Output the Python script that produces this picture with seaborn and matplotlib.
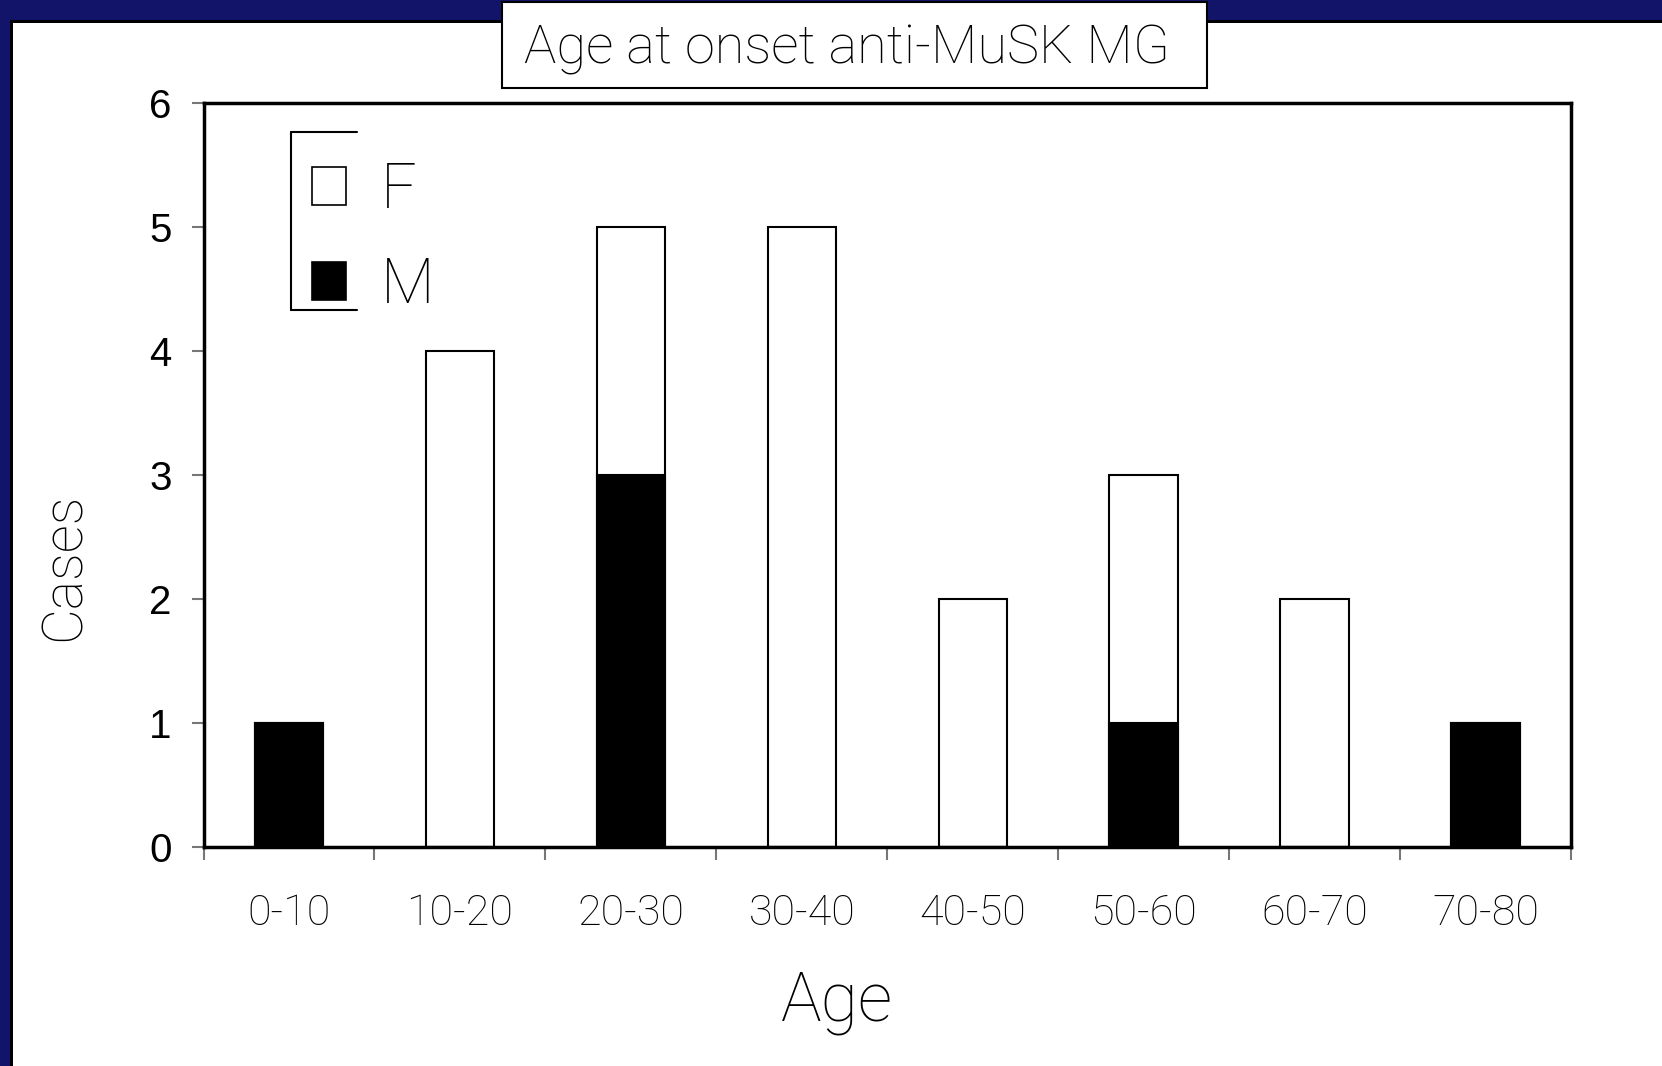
import matplotlib
matplotlib.use("Agg")
import matplotlib.pyplot as plt
from matplotlib.patches import Rectangle, Patch
from matplotlib.lines import Line2D
import seaborn as sns
import pandas as pd
import numpy as np

categories = ["0-10", "10-20", "20-30", "30-40", "40-50", "50-60", "60-70", "70-80"]
female = [0, 4, 2, 5, 2, 2, 2, 0]
male = [1, 0, 3, 0, 0, 1, 0, 1]
y_ticks = [0, 1, 2, 3, 4, 5, 6]

title_text = "Age at onset anti-MuSK MG"
x_label = "Age"
y_label = "Cases"

df = pd.DataFrame({"age": categories, "F": female, "M": male})
df["total"] = df["F"] + df["M"]

sns.set_theme(style="white")
LIGHT = ["Roboto", "Open Sans", "DejaVu Sans"]
LW = "light"
plt.rcParams["font.family"] = ["Liberation Sans", "DejaVu Sans"]
plt.rcParams["text.color"] = "black"
plt.rcParams["xtick.color"] = "black"
plt.rcParams["ytick.color"] = "black"

W, H = 1662, 1066
fig = plt.figure(figsize=(W / 100, H / 100), dpi=100)
fig.patch.set_facecolor("white")

def fx(px):
    return px / W

def fy(py):
    return 1 - py / H

# navy border strips
navy = "#12146A"
fig.patches.append(Rectangle((0, fy(20)), 1, 20 / H, transform=fig.transFigure, facecolor=navy, edgecolor="none", zorder=0))
fig.patches.append(Rectangle((0, 0), fx(10), 1, transform=fig.transFigure, facecolor=navy, edgecolor="none", zorder=0))
fig.patches.append(Rectangle((fx(10), fy(23)), 1, 3 / H, transform=fig.transFigure, facecolor="black", edgecolor="none", zorder=0.5))
fig.patches.append(Rectangle((fx(10), 0), 3 / W, fy(20), transform=fig.transFigure, facecolor="black", edgecolor="none", zorder=0.5))

ax = fig.add_axes([fx(203.5), fy(847), fx(1571 - 203.5), (847 - 103) / H])
ax.set_facecolor("white")

sns.barplot(data=df, x="age", y="total", order=categories, color="white",
            edgecolor="black", linewidth=1.5, width=0.4, saturation=1, ax=ax, zorder=2)
sns.barplot(data=df, x="age", y="M", order=categories, color="black",
            edgecolor="black", linewidth=1.5, width=0.4, saturation=1, ax=ax, zorder=3)

ax.set_xlim(-0.5, len(categories) - 0.5)
ax.set_ylim(0, 6)
ax.set_yticks(y_ticks)
ax.set_yticklabels([str(v) for v in y_ticks], fontsize=29, color="black")
ax.set_xticks(np.arange(-0.5, len(categories), 1.0))
ax.set_xticklabels([])
ax.set_xticks(np.arange(len(categories)), minor=True)
ax.set_xticklabels(categories, minor=True, fontsize=31, family=LIGHT, fontweight=LW, color="black")
ax.tick_params(axis="x", which="major", direction="out", length=9, width=1.5, color="#777777", bottom=True)
ax.tick_params(axis="x", which="minor", length=0, pad=33, bottom=True)
ax.tick_params(axis="y", which="major", direction="out", length=9, width=1.5, color="#777777", pad=14, left=True)
for s in ax.spines.values():
    s.set_visible(True)
    s.set_color("black")
    s.set_linewidth(2.5)
ax.set_xlabel("")
ax.set_ylabel("")

# legend
handles = [Patch(facecolor="white", edgecolor="black", linewidth=1.2),
           Patch(facecolor="black", edgecolor="black", linewidth=1.2)]
leg = ax.legend(handles=handles, labels=["F", "M"], frameon=False,
                loc="upper left", bbox_to_anchor=(fx(293 - 203.5) / fx(1571 - 203.5), (847 - 142) / (847 - 103)),
                prop={"family": LIGHT, "weight": LW, "size": 45},
                handlelength=0.55, handleheight=0.55, handletextpad=0.55, labelspacing=0.55,
                borderaxespad=0, borderpad=0.3)
for t in leg.get_texts():
    t.set_color("black")
# partial legend frame (left, top, bottom)
lx0, lx1 = fx(291), fx(357)
ly0, ly1 = fy(310), fy(132)
for xs, ys in [([lx0, lx0], [ly0, ly1]), ([lx0, lx1], [ly1, ly1]), ([lx0, lx1], [ly0, ly0])]:
    fig.add_artist(Line2D(xs, ys, transform=fig.transFigure, color="black", linewidth=1.5))

# title box
fig.patches.append(Rectangle((fx(502), fy(88)), fx(1207 - 502), (88 - 2) / H, transform=fig.transFigure,
                             facecolor="white", edgecolor="black", linewidth=1.5, zorder=2))
fig.text(fx(847), fy(49), title_text, ha="center", va="center", fontsize=39,
         family=LIGHT, fontweight=LW, color="black", zorder=3)

# axis labels
fig.text(fx(837), fy(1002), x_label, ha="center", va="center", fontsize=49,
         family=LIGHT, fontweight=LW, color="black")
fig.text(fx(64), fy(567), y_label, ha="center", va="center", fontsize=40, rotation=90,
         family=LIGHT, fontweight=LW, color="black")

fig.savefig("out.png", dpi=100, facecolor="white")
